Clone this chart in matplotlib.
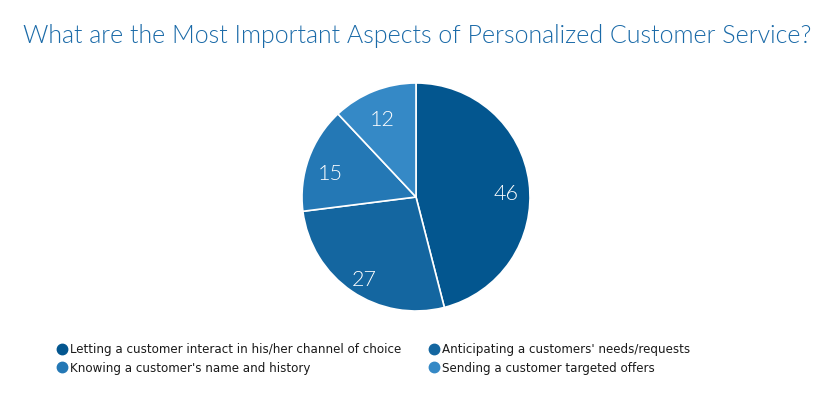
import matplotlib.pyplot as plt
from matplotlib.lines import Line2D

# data
labels = ["Letting a customer interact in his/her channel of choice",
          "Anticipating a customers' needs/requests",
          "Knowing a customer's name and history",
          "Sending a customer targeted offers"]
values = [46, 27, 15, 12]
colors = ["#03568f", "#1466a0", "#2478b5", "#3589c6"]

fig = plt.figure(figsize=(8.22, 3.95), dpi=100)

# title
fig.text(0.508, 0.91, "What are the Most Important Aspects of Personalized Customer Service?",
         ha="center", va="center", fontsize=18, color="#1a6aa8",
         family="Lato", fontweight=300)

# pie axes, centred at (416,197) px with radius 114 px
ax = fig.add_axes([(416 - 114) / 822, (395 - 197 - 114) / 395, 228 / 822, 228 / 395])
wedges, texts, autotexts = ax.pie(values, colors=colors, startangle=90, counterclock=False,
                                  autopct=lambda p: f"{p:.0f}", pctdistance=0.8,
                                  wedgeprops=dict(edgecolor="white", linewidth=1.2),
                                  textprops=dict(color="white", fontsize=15.5, family="Lato",
                                                 fontweight=300))
for t in autotexts:
    x, y = t.get_position()
    t.set_position((x, y - 0.07))
ax.set_xlim(-1, 1)
ax.set_ylim(-1, 1)
ax.set_aspect("equal")

# legend, filled row by row
order = [0, 2, 1, 3]
handles = [Line2D([], [], marker="o", linestyle="none", markersize=7.5,
                  markerfacecolor=colors[i], markeredgecolor=colors[i]) for i in order]
fig.legend(handles, [labels[i] for i in order], ncol=2, loc="upper left",
           bbox_to_anchor=(0.0697, 0.131), frameon=False, handlelength=0.8,
           handletextpad=0.3, columnspacing=2.3, labelspacing=0.45,
           prop=dict(family="DejaVu Sans", size=8.6), labelcolor="#1a1a1a",
           borderpad=0, borderaxespad=0)

plt.savefig("out.png", dpi=100)
